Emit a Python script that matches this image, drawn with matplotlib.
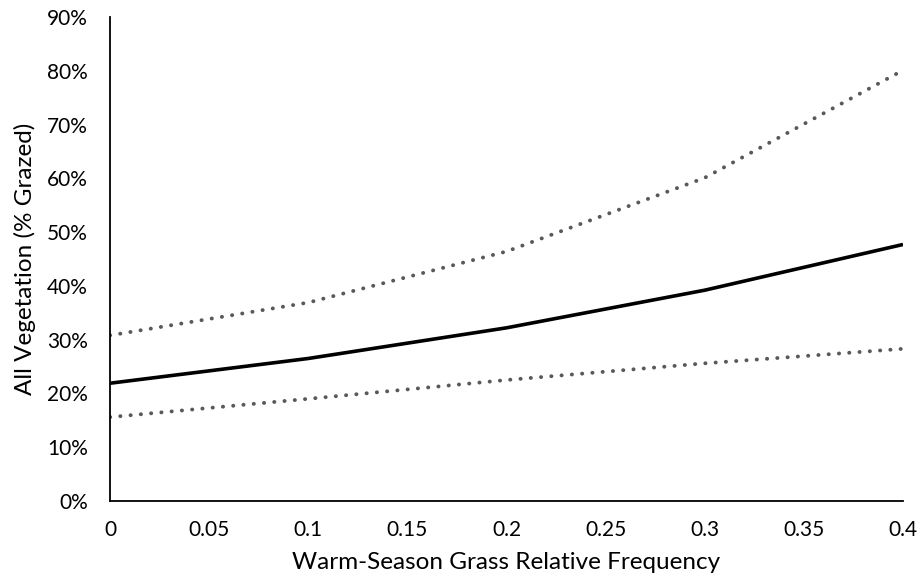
import matplotlib
matplotlib.use("Agg")
import matplotlib.pyplot as plt
from matplotlib.ticker import PercentFormatter

x = [0, 0.1, 0.2, 0.3, 0.4]
upper = [0.308, 0.369, 0.464, 0.601, 0.801]
mean = [0.219, 0.265, 0.322, 0.392, 0.477]
lower = [0.156, 0.190, 0.225, 0.256, 0.283]
xticks = [0, 0.05, 0.1, 0.15, 0.2, 0.25, 0.3, 0.35, 0.4]
xticklabels = ["0", "0.05", "0.1", "0.15", "0.2", "0.25", "0.3", "0.35", "0.4"]

plt.rcParams['font.family'] = ['Lato', 'DejaVu Sans']

fig = plt.figure(figsize=(9.24, 5.88), dpi=100)
ax = fig.add_axes([110/924, 1-501/588, (903-110)/924, (501-17)/588])

ax.plot(x, upper, color="#595959", lw=2.8, linestyle=(0, (0.05, 2.6)), dash_capstyle="round")
ax.plot(x, lower, color="#595959", lw=2.8, linestyle=(0, (0.05, 2.6)), dash_capstyle="round")
ax.plot(x, mean, color="black", lw=2.6, solid_capstyle="butt")

ax.set_xlim(0, 0.4)
ax.set_ylim(0, 0.9)
ax.set_xticks(xticks)
ax.set_xticklabels(xticklabels)
ax.set_yticks([i/10 for i in range(10)])
ax.yaxis.set_major_formatter(PercentFormatter(1.0, decimals=0))
ax.tick_params(length=0, labelsize=15, colors="black")
ax.tick_params(axis='x', pad=14)
ax.tick_params(axis='y', pad=16)
for s in ["top", "right"]:
    ax.spines[s].set_visible(False)
for s in ["left", "bottom"]:
    ax.spines[s].set_linewidth(1.3)
    ax.spines[s].set_color("black")
ax.set_xlabel("Warm-Season Grass Relative Frequency", fontsize=17.5, labelpad=8)
ax.set_ylabel("All Vegetation (% Grazed)", fontsize=17.5, labelpad=8)

fig.savefig("out.png", dpi=100)
